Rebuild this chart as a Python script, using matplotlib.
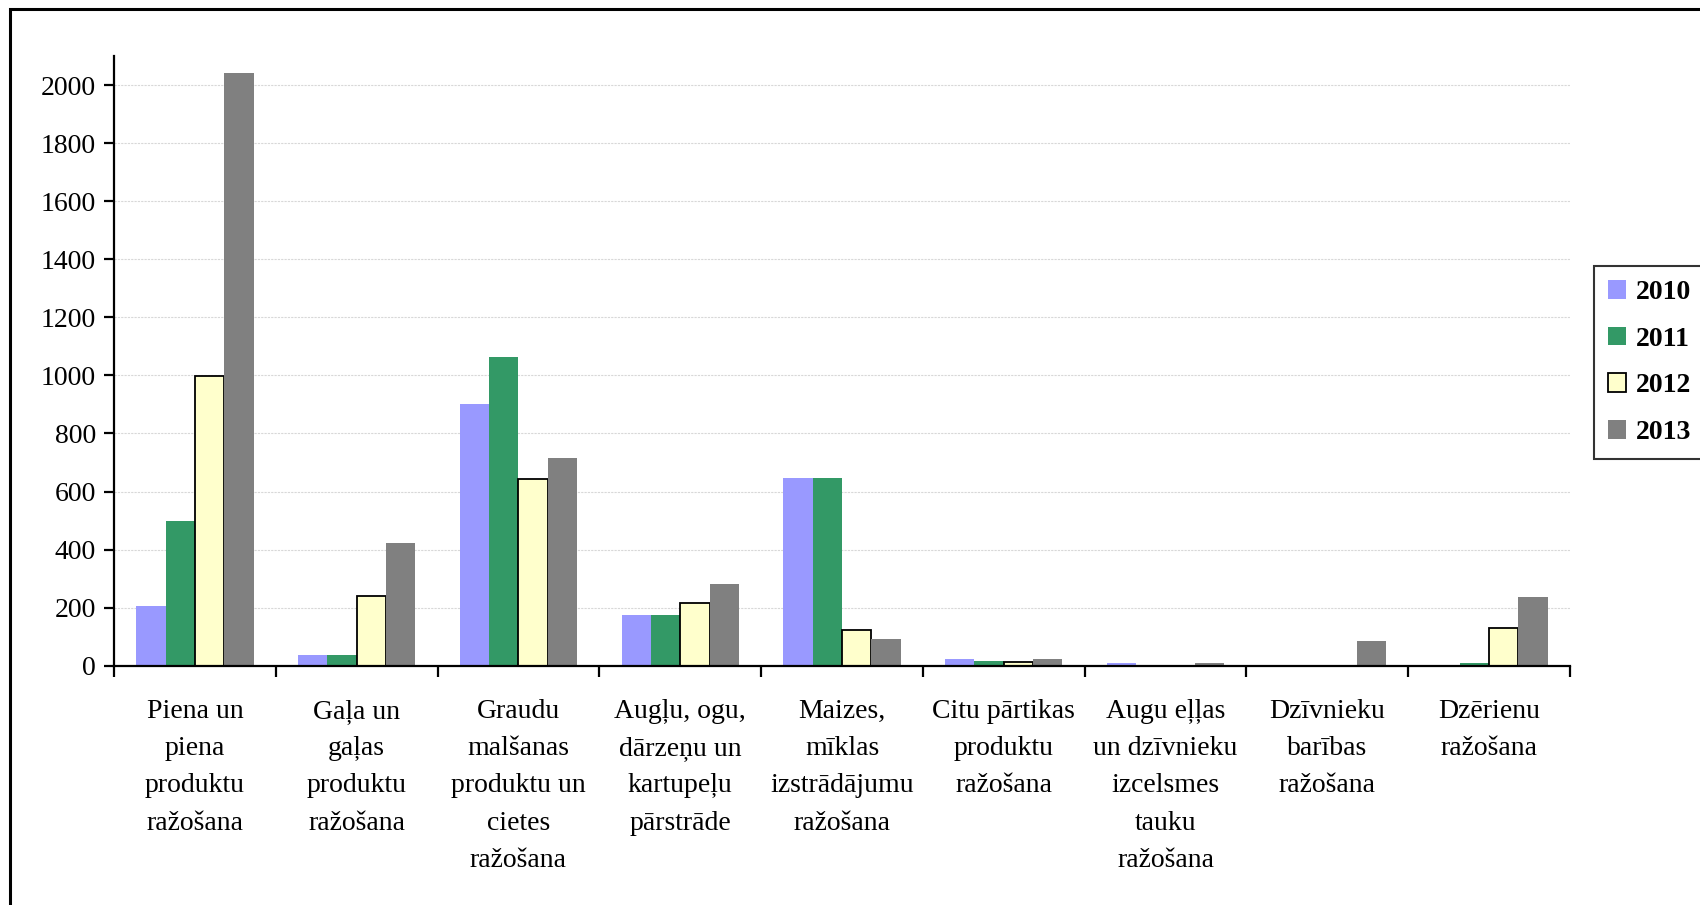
import matplotlib
matplotlib.use("Agg")
import matplotlib.pyplot as plt
import numpy as np
from matplotlib.patches import Rectangle, Patch

categories = [
    "Piena un\npiena\nproduktu\nražošana",
    "Gaļa un\ngaļas\nproduktu\nražošana",
    "Graudu\nmalšanas\nproduktu un\ncietes\nražošana",
    "Augļu, ogu,\ndārzeņu un\nkartupeļu\npārstrāde",
    "Maizes,\nmīklas\nizstrādājumu\nražošana",
    "Citu pārtikas\nproduktu\nražošana",
    "Augu eļļas\nun dzīvnieku\nizcelsmes\ntauku\nražošana",
    "Dzīvnieku\nbarības\nražošana",
    "Dzērienu\nražošana",
]
years = ["2010", "2011", "2012", "2013"]
v2010 = [205, 37, 900, 176, 648, 23, 9, 0, 0]
v2011 = [497, 37, 1063, 176, 648, 16, 0, 0, 9]
v2012 = [997, 240, 642, 217, 124, 13, 0, 0, 131]
v2013 = [2043, 422, 714, 280, 93, 23, 8, 85, 236]
y_ticks = list(range(0, 2001, 200))

series = [v2010, v2011, v2012, v2013]
colors = ["#9999FF", "#339966", "#FFFFCC", "#808080"]
edges = [None, None, "black", None]

plt.rcParams['font.family'] = ['Liberation Serif', 'DejaVu Serif']

fig = plt.figure(figsize=(17, 9.05), dpi=100)
ax = fig.add_axes([0.0671, 0.2644, 0.9235 - 0.0671, 0.938 - 0.2644])

n = len(categories)
x = np.arange(n) + 0.5
w = 0.181
for j, (vals, c, e) in enumerate(zip(series, colors, edges)):
    pos = x + (j - 1.5) * w
    if e:
        ax.bar(pos, vals, width=w, color=c, edgecolor=e, linewidth=1.3, zorder=3)
    else:
        ax.bar(pos, vals, width=w, color=c, linewidth=0, zorder=3)

ax.set_xlim(0, n)
ax.set_ylim(0, 2100)
ax.set_yticks(y_ticks)
ax.set_yticklabels([str(t) for t in y_ticks], fontsize=20)
ax.yaxis.grid(True, color="#d8d8d8", linestyle=(0, (2, 1)), linewidth=0.8, zorder=0)
ax.set_xticks(np.arange(n + 1))
ax.set_xticklabels([])
ax.set_xticks(x, minor=True)
ax.set_xticklabels(categories, minor=True, fontsize=20)
for lbl in ax.get_xticklabels(minor=True):
    lbl.set_linespacing(1.64)
ax.tick_params(axis='x', which='minor', length=0, pad=24)
ax.tick_params(axis='x', which='major', length=8, width=1.6, direction='out')
ax.tick_params(axis='y', length=7, width=1.6, direction='out', pad=6)
for s in ['top', 'right']:
    ax.spines[s].set_visible(False)
for s in ['left', 'bottom']:
    ax.spines[s].set_linewidth(1.6)
    ax.spines[s].set_zorder(4)

handles = [Patch(facecolor=c, edgecolor=(e if e else c), linewidth=(1.3 if e else 0)) for c, e in zip(colors, edges)]
leg = fig.legend(handles, years, loc='upper left', bbox_to_anchor=(0.9376, 0.706),
                 bbox_transform=fig.transFigure, borderaxespad=0,
                 prop={'weight': 'bold', 'size': 20}, frameon=True, fancybox=False,
                 handlelength=0.65, handleheight=0.65, handletextpad=0.35,
                 labelspacing=0.78, borderpad=0.5)
leg.get_frame().set_edgecolor('black')
leg.get_frame().set_linewidth(1.5)

frame = Rectangle((10 / 1700, -0.05), 1.2, 0.99 + 0.05, transform=fig.transFigure,
                  fill=False, edgecolor='black', linewidth=2.2, clip_on=False)
fig.patches.append(frame)

fig.savefig("out.png", dpi=100)
